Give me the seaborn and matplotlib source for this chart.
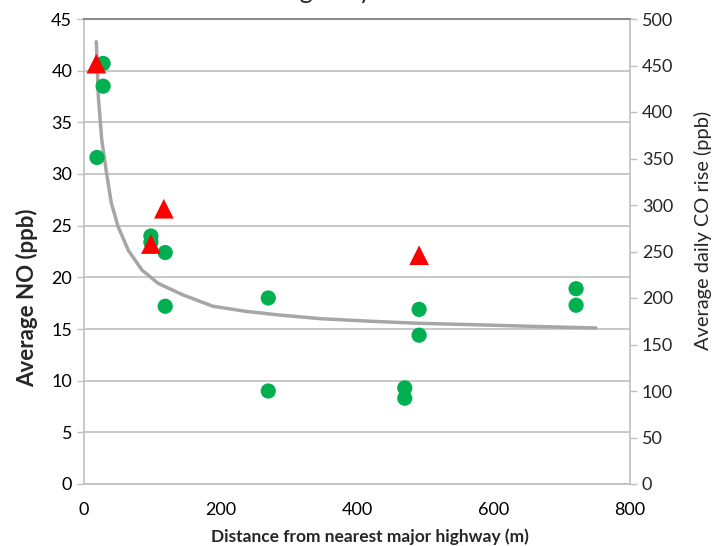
import matplotlib
matplotlib.use("Agg")
import matplotlib.pyplot as plt
import seaborn as sns

# measured NO (left axis, ppb)
no_dist = [28, 28, 19, 98, 98, 119, 119, 270, 270, 470, 470, 491, 491, 721, 721]
no_ppb = [40.7, 38.5, 31.6, 24.0, 23.4, 22.4, 17.2, 18.0, 9.0, 9.3, 8.3, 16.9, 14.4, 18.9, 17.3]

# daily CO rise (right axis, ppb)
co_dist = [18, 98, 117, 491]
co_ppb = [452, 258, 296, 246]

# fitted curve
fit_dist = [18, 21, 26, 33, 40, 50, 65, 85, 109, 145, 189, 238, 287, 346, 420, 492, 580, 687, 750]
fit_no = [42.8, 37.5, 33.3, 30.1, 27.2, 24.9, 22.6, 20.7, 19.4, 18.3, 17.2, 16.7,
          16.35, 16.0, 15.75, 15.55, 15.4, 15.2, 15.1]

x_ticks = [0, 200, 400, 600, 800]
no_ticks = [0, 5, 10, 15, 20, 25, 30, 35, 40, 45]
co_ticks = [0, 50, 100, 150, 200, 250, 300, 350, 400, 450, 500]

sns.set_style("white")
plt.rcParams["font.family"] = ["Lato", "DejaVu Sans"]

W, H = 722, 546
fig = plt.figure(figsize=(W / 100, H / 100), dpi=100)
ax = fig.add_axes([84 / W, 1 - 484 / H, 546 / W, 465 / H])

sns.lineplot(x=fit_dist, y=fit_no, sort=False, color="#a6a6a6", linewidth=2.5, ax=ax, zorder=2)
sns.scatterplot(x=no_dist, y=no_ppb, color="#00b050", s=120, edgecolor="none", ax=ax, zorder=3)

ax.set_xlim(0, 800)
ax.set_ylim(0, 45)
ax.set_xticks(x_ticks)
ax.set_yticks(no_ticks)
ax.grid(axis="y", color="#bfbfbf", linewidth=1.2)
ax.set_axisbelow(True)
for side in ["left", "bottom", "right"]:
    ax.spines[side].set_color("#bfbfbf")
    ax.spines[side].set_linewidth(1.2)
ax.spines["top"].set_color("#8c8c8c")
ax.spines["top"].set_linewidth(1.5)
ax.tick_params(axis="both", direction="out", length=5, width=1, color="#bfbfbf",
               labelsize=13, labelcolor="black")
ax.tick_params(axis="x", pad=8)
ax.set_xlabel("Distance from nearest major highway (m)", fontsize=12.5, fontweight="bold")
ax.xaxis.set_label_coords(0.524, -0.095)
ax.set_ylabel("")

ax2 = ax.twinx()
sns.scatterplot(x=co_dist, y=co_ppb, color="#ff0000", marker="^", s=200, edgecolor="none", ax=ax2, zorder=4)
ax2.set_ylim(0, 500)
ax2.set_yticks(co_ticks)
for side in ["left", "bottom", "right", "top"]:
    ax2.spines[side].set_visible(False)
ax2.tick_params(axis="y", direction="out", length=5, width=1, color="#bfbfbf", labelsize=13)
ax2.set_ylabel("")

# axis titles placed by their centres
fig.text(27 / W, 1 - 298 / H, "Average NO (ppb)", rotation=90, ha="center", va="center",
         fontsize=16, fontweight="bold")
fig.text(703 / W, 1 - 230 / H, "Average daily CO rise (ppb)", rotation=90, ha="center",
         va="center", fontsize=14.4)

# title cut off by the top edge of the image
fig.text(280 / W, 1 + 1 / H, "highway", ha="left", va="baseline", fontsize=18)

fig.savefig("out.png", dpi=100)
